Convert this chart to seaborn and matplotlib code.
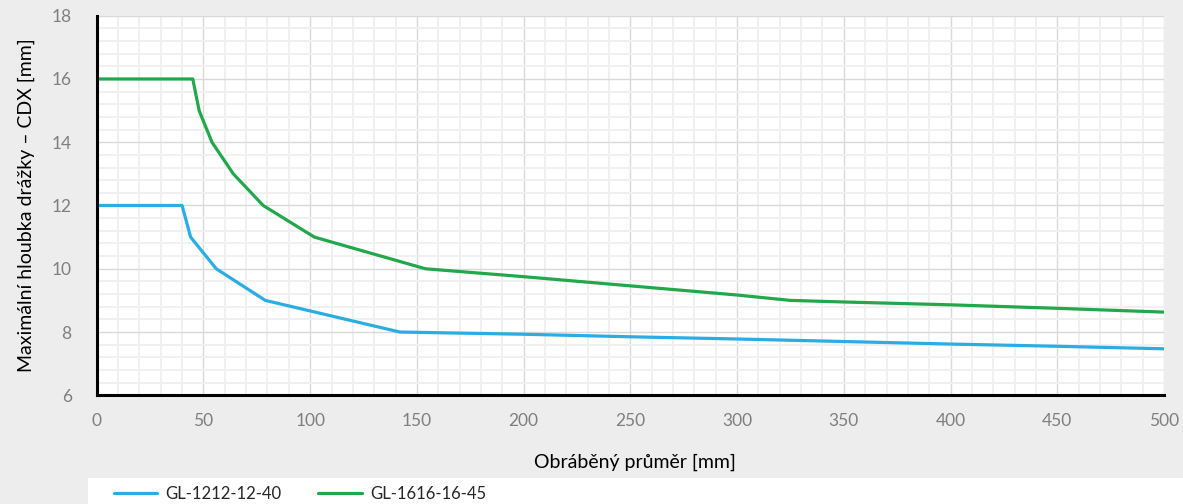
import numpy as np
import pandas as pd
import matplotlib
matplotlib.use("Agg")
import matplotlib.pyplot as plt
from matplotlib.patches import Rectangle
from matplotlib.lines import Line2D
from matplotlib.ticker import MultipleLocator
import seaborn as sns

# Tool series: machined diameter [mm] vs. maximum groove depth CDX [mm]
series_names = ["GL-1212-12-40", "GL-1616-16-45"]

x_1212 = [0, 40, 44, 56, 79, 142, 200, 250, 300, 350, 400, 450, 500]
y_1212 = [12, 12, 11, 10, 9, 8, 7.93, 7.85, 7.78, 7.70, 7.62, 7.55, 7.47]

x_1616 = [0, 45, 48, 54, 64, 78, 102, 154, 200, 250, 300, 325, 350, 400, 450, 500]
y_1616 = [16, 16, 15, 14, 13, 12, 11, 10, 9.75, 9.46, 9.17, 9.0, 8.95, 8.86, 8.75, 8.63]

x_ticks = [0, 50, 100, 150, 200, 250, 300, 350, 400, 450, 500]
y_ticks = [6, 8, 10, 12, 14, 16, 18]

colors = {"GL-1212-12-40": "#2AADE3", "GL-1616-16-45": "#23A74B"}

df = pd.concat([
    pd.DataFrame({"x": x_1212, "y": y_1212, "tool": series_names[0]}),
    pd.DataFrame({"x": x_1616, "y": y_1616, "tool": series_names[1]}),
], ignore_index=True)

sns.set_theme(style="white")
plt.rcParams["font.family"] = ["Lato", "DejaVu Sans"]

fig = plt.figure(figsize=(11.83, 5.04), dpi=100)
fig.patch.set_facecolor("#EDEDED")
# white legend strip along the bottom
fig.patches.append(Rectangle((88 / 1183, 0), 1 - 88 / 1183, 26.5 / 504,
                             transform=fig.transFigure, facecolor="white",
                             edgecolor="none", zorder=0))

ax = fig.add_axes([96.7 / 1183, 1 - 395.3 / 504, (1164 - 96.7) / 1183, (395.3 - 15.7) / 504])
ax.set_facecolor("white")

sns.lineplot(data=df, x="x", y="y", hue="tool", palette=colors, ax=ax,
             linewidth=2.3, legend=False, sort=False, estimator=None)

ax.set_xlim(0, 500)
ax.set_ylim(6, 18)
ax.set_xticks(x_ticks)
ax.set_yticks(y_ticks)
ax.xaxis.set_minor_locator(MultipleLocator(10))
ax.yaxis.set_minor_locator(MultipleLocator(0.4))

ax.grid(which="major", color="#D9D9D9", linewidth=1.0, zorder=0)
ax.grid(which="minor", color="#F0F0F0", linewidth=1.4, zorder=0)
ax.set_axisbelow(True)

for side in ("top", "right"):
    ax.spines[side].set_visible(False)
for side in ("left", "bottom"):
    ax.spines[side].set_color("black")
    ax.spines[side].set_linewidth(2.2)
    ax.spines[side].set_zorder(5)

ax.tick_params(axis="both", which="major", direction="out", length=6, width=1,
               color="#A6A6A6", labelcolor="#7F7F7F", labelsize=12.5)
ax.tick_params(axis="both", which="minor", direction="out", length=4, width=1,
               color="#BFBFBF")
ax.tick_params(axis="x", which="major", pad=7)
ax.tick_params(axis="y", which="major", pad=12)

ax.set_xlabel("")
ax.set_ylabel("Maximální hloubka drážky – CDX [mm]", fontsize=14, color="black", labelpad=12)
fig.text(635 / 1183, 1 - 462 / 504, "Obráběný průměr [mm]", ha="center", va="center",
         fontsize=14, color="black")

handles = [Line2D([0], [0], color=colors[n], linewidth=2.3) for n in series_names]
fig.legend(handles, series_names, loc="center left", bbox_to_anchor=(99 / 1183, 1 - 494 / 504),
           ncol=2, frameon=False, fontsize=12, handlelength=2.6, handletextpad=0.5,
           columnspacing=2.2)

fig.savefig("out.png", dpi=100, facecolor=fig.get_facecolor())
